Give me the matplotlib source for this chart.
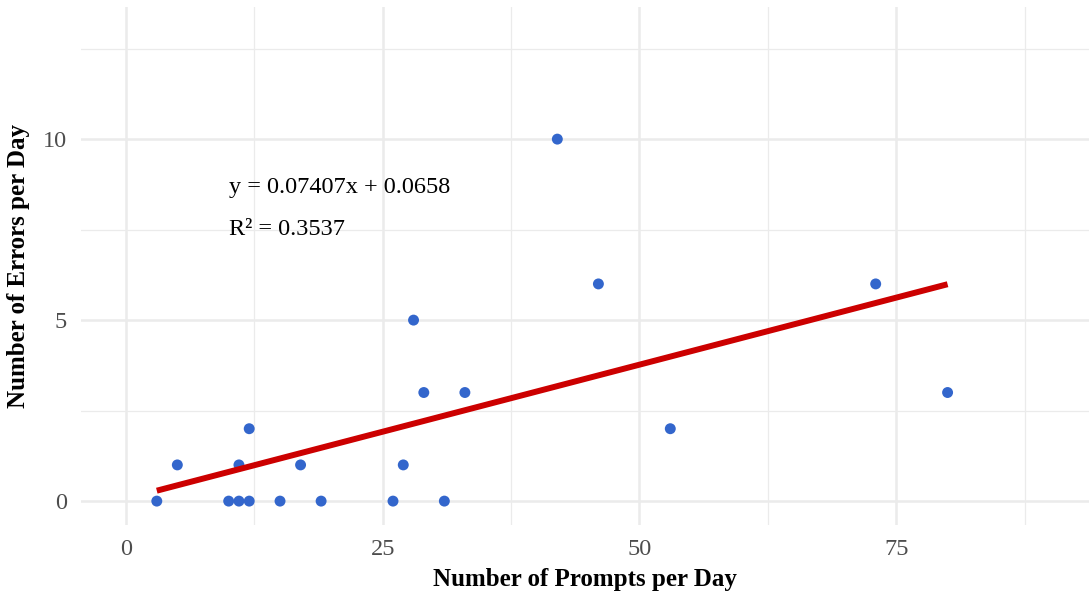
import numpy as np
import matplotlib.pyplot as plt

# Prompts per day vs errors per day
prompts = [3, 5, 10, 11, 11, 12, 12, 15, 17, 19, 26, 27, 28, 29, 31, 33, 42, 46, 53, 73, 80]
errors = [0, 1, 0, 1, 0, 2, 0, 0, 1, 0, 0, 1, 5, 3, 0, 3, 10, 6, 2, 6, 3]

slope = 0.07407
intercept = 0.0658
r2 = 0.3537

x_ticks = [0, 25, 50, 75]
y_ticks = [0, 5, 10]

plt.rcParams['font.family'] = ['Liberation Serif', 'DejaVu Serif']

fig = plt.figure(figsize=(10.89, 5.92), dpi=100)
ax = fig.add_axes([81 / 1089, 1 - 525 / 592, 1 - 81 / 1089, (525 - 7) / 592])

# grid, ggplot theme_minimal style
for v in [12.5, 37.5, 62.5, 87.5]:
    ax.axvline(v, color='#ebebeb', lw=0.9, zorder=0)
for v in [2.5, 7.5, 12.5]:
    ax.axhline(v, color='#ebebeb', lw=0.9, zorder=0)
for v in x_ticks:
    ax.axvline(v, color='#ebebeb', lw=1.8, zorder=0)
for v in y_ticks:
    ax.axhline(v, color='#ebebeb', lw=1.8, zorder=0)

ax.scatter(prompts, errors, s=62, color='#3366cc', edgecolors='none', zorder=3)

xs = np.array([min(prompts), max(prompts)])
ax.plot(xs, slope * xs + intercept, color='#cc0000', lw=4.3,
        solid_capstyle='butt', zorder=4)

ax.text(10, 8.67, f'y = {slope}x + {intercept}', fontsize=17.5, va='center', ha='left')
ax.text(10, 7.49, f'R² = {r2}', fontsize=17.5, va='center', ha='left')

ax.set_xlim(-4.38, 93.77)
ax.set_ylim(-0.66, 13.65)
ax.set_xticks(x_ticks)
ax.set_yticks(y_ticks)
ax.tick_params(length=0, labelsize=17.5, labelcolor='#4d4d4d', pad=10)
for s in ax.spines.values():
    s.set_visible(False)

ax.set_xlabel('Number of Prompts per Day', fontsize=18, fontweight='bold', labelpad=6)
ax.set_ylabel('Number of Errors per Day', fontsize=18, fontweight='bold', labelpad=9)

fig.savefig('out.png', dpi=100)
